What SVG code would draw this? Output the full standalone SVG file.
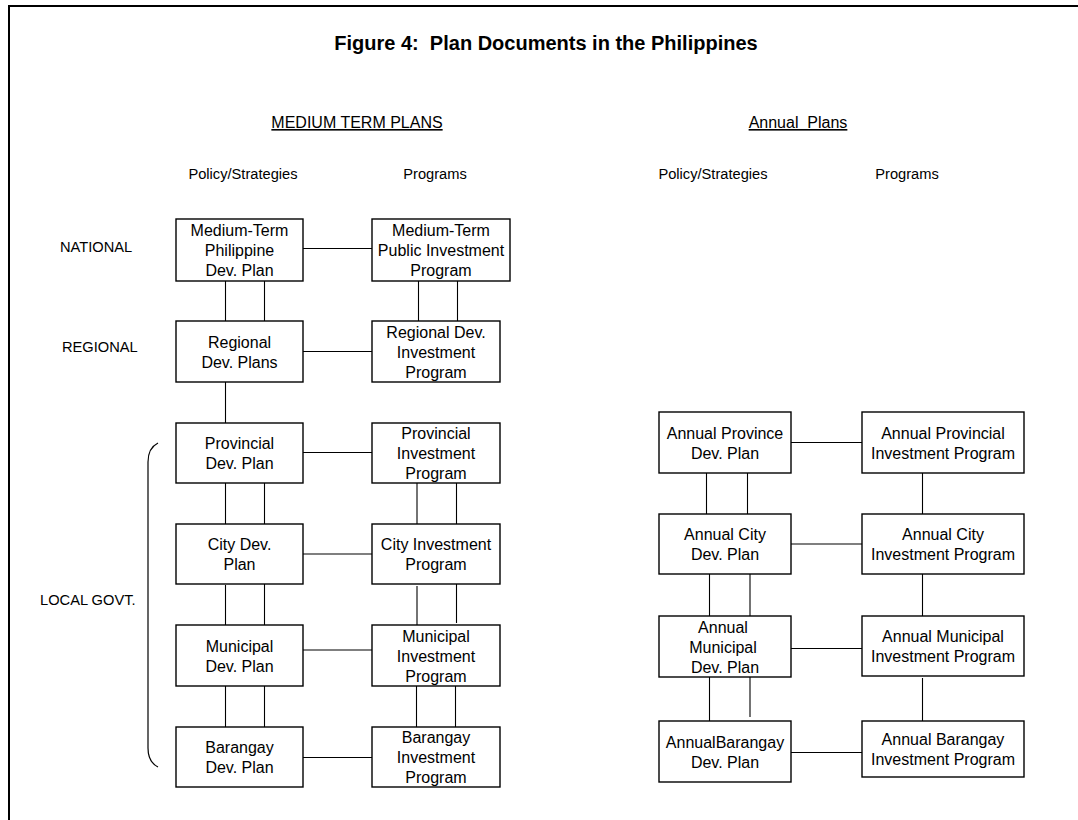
<svg xmlns="http://www.w3.org/2000/svg" width="1078" height="820" viewBox="0 0 1078 820">
<style>
text{font-family:"Liberation Sans",Arial,sans-serif;fill:#000}
.t{font-size:16px;text-anchor:middle}
.h{font-size:14.67px;text-anchor:middle}
.lv{font-size:14.67px}
.title{font-size:20px;font-weight:bold;text-anchor:middle}
.box{fill:#fff;stroke:#000;stroke-width:1.4}
.c line{stroke:#000;stroke-width:1.1}
</style>
<rect x="9" y="6" width="1100" height="900" fill="#fff" stroke="#000" stroke-width="2"/>
<text class="title" x="546" y="50" xml:space="preserve">Figure 4:  Plan Documents in the Philippines</text>
<text class="t" x="357" y="128" text-decoration="underline">MEDIUM TERM PLANS</text>
<text class="t" x="798" y="128" text-decoration="underline" xml:space="preserve">Annual  Plans</text>
<text class="h" x="243" y="179">Policy/Strategies</text>
<text class="h" x="435" y="179">Programs</text>
<text class="h" x="713" y="179">Policy/Strategies</text>
<text class="h" x="907" y="179">Programs</text>
<text class="lv" x="60" y="252">NATIONAL</text>
<text class="lv" x="62" y="352">REGIONAL</text>
<text class="lv" x="40" y="605">LOCAL GOVT.</text>
<path d="M158,443 Q148,448 148,462 L148,748 Q148,762 158,767" fill="none" stroke="#000" stroke-width="1.2"/>
<g class="c" id="connectors">
<line x1="303" y1="248.5" x2="372" y2="248.5"/>
<line x1="303" y1="351.5" x2="372" y2="351.5"/>
<line x1="303" y1="452.5" x2="372" y2="452.5"/>
<line x1="303" y1="554" x2="372" y2="554"/>
<line x1="303" y1="650" x2="372" y2="650"/>
<line x1="303" y1="757.5" x2="372" y2="757.5"/>
<line x1="225.5" y1="281" x2="225.5" y2="321"/>
<line x1="264.5" y1="281" x2="264.5" y2="321"/>
<line x1="418.5" y1="281" x2="418.5" y2="321"/>
<line x1="457.5" y1="281" x2="457.5" y2="321"/>
<line x1="225.5" y1="382" x2="225.5" y2="423"/>
<line x1="225.5" y1="483" x2="225.5" y2="524"/>
<line x1="264.5" y1="483" x2="264.5" y2="524"/>
<line x1="417" y1="483" x2="417" y2="524"/>
<line x1="456.5" y1="483" x2="456.5" y2="524"/>
<line x1="225.5" y1="585" x2="225.5" y2="625"/>
<line x1="264.5" y1="583" x2="264.5" y2="625"/>
<line x1="417" y1="586" x2="417" y2="625"/>
<line x1="456.5" y1="583" x2="456.5" y2="623"/>
<line x1="225.5" y1="686" x2="225.5" y2="727"/>
<line x1="264.5" y1="686" x2="264.5" y2="727"/>
<line x1="416.5" y1="686" x2="416.5" y2="727"/>
<line x1="455.5" y1="686" x2="455.5" y2="727"/>
<line x1="791" y1="442.5" x2="862" y2="442.5"/>
<line x1="791" y1="544" x2="862" y2="544"/>
<line x1="791" y1="648.5" x2="862" y2="648.5"/>
<line x1="791" y1="752.5" x2="862" y2="752.5"/>
<line x1="706.5" y1="473" x2="706.5" y2="514"/>
<line x1="747.5" y1="473" x2="747.5" y2="514"/>
<line x1="709.5" y1="574" x2="709.5" y2="616"/>
<line x1="750" y1="574" x2="750" y2="616"/>
<line x1="709.5" y1="677" x2="709.5" y2="721"/>
<line x1="750" y1="677" x2="750" y2="717"/>
<line x1="922.5" y1="473" x2="922.5" y2="514"/>
<line x1="922.5" y1="574" x2="922.5" y2="616"/>
<line x1="922.5" y1="678" x2="922.5" y2="721"/>
</g>
<g id="n1"><rect class="box" x="176" y="219" width="127" height="62"/><text class="t" x="239.5" y="236.3">Medium-Term</text><text class="t" x="239.5" y="256.3">Philippine</text><text class="t" x="239.5" y="276.3">Dev. Plan</text></g>
<g id="n2"><rect class="box" x="372" y="219" width="138" height="62"/><text class="t" x="441" y="236.3">Medium-Term</text><text class="t" x="441" y="256.3">Public Investment</text><text class="t" x="441" y="276.3">Program</text></g>
<g id="n3"><rect class="box" x="176" y="321" width="127" height="61"/><text class="t" x="239.5" y="347.8">Regional</text><text class="t" x="239.5" y="367.8">Dev. Plans</text></g>
<g id="n4"><rect class="box" x="372" y="321" width="128" height="61"/><text class="t" x="436" y="337.8">Regional Dev.</text><text class="t" x="436" y="357.8">Investment</text><text class="t" x="436" y="377.8">Program</text></g>
<g id="n5"><rect class="box" x="176" y="423" width="127" height="60"/><text class="t" x="239.5" y="449.3">Provincial</text><text class="t" x="239.5" y="469.3">Dev. Plan</text></g>
<g id="n6"><rect class="box" x="372" y="423" width="128" height="60"/><text class="t" x="436" y="439.3">Provincial</text><text class="t" x="436" y="459.3">Investment</text><text class="t" x="436" y="479.3">Program</text></g>
<g id="n7"><rect class="box" x="176" y="524" width="127" height="60"/><text class="t" x="239.5" y="550.3">City Dev.</text><text class="t" x="239.5" y="570.3">Plan</text></g>
<g id="n8"><rect class="box" x="372" y="524" width="128" height="60"/><text class="t" x="436" y="550.3">City Investment</text><text class="t" x="436" y="570.3">Program</text></g>
<g id="n9"><rect class="box" x="176" y="625" width="127" height="61"/><text class="t" x="239.5" y="651.8">Municipal</text><text class="t" x="239.5" y="671.8">Dev. Plan</text></g>
<g id="n10"><rect class="box" x="372" y="625" width="128" height="61"/><text class="t" x="436" y="641.8">Municipal</text><text class="t" x="436" y="661.8">Investment</text><text class="t" x="436" y="681.8">Program</text></g>
<g id="n11"><rect class="box" x="176" y="727" width="127" height="60"/><text class="t" x="239.5" y="753.3">Barangay</text><text class="t" x="239.5" y="773.3">Dev. Plan</text></g>
<g id="n12"><rect class="box" x="372" y="727" width="128" height="60"/><text class="t" x="436" y="743.3">Barangay</text><text class="t" x="436" y="763.3">Investment</text><text class="t" x="436" y="783.3">Program</text></g>
<g id="a1"><rect class="box" x="659" y="412" width="132" height="61"/><text class="t" x="725" y="438.8">Annual Province</text><text class="t" x="725" y="458.8">Dev. Plan</text></g>
<g id="a2"><rect class="box" x="862" y="412" width="162" height="61"/><text class="t" x="943" y="438.8">Annual Provincial</text><text class="t" x="943" y="458.8">Investment Program</text></g>
<g id="a3"><rect class="box" x="659" y="514" width="132" height="60"/><text class="t" x="725" y="540.3">Annual City</text><text class="t" x="725" y="560.3">Dev. Plan</text></g>
<g id="a4"><rect class="box" x="862" y="514" width="162" height="60"/><text class="t" x="943" y="540.3">Annual City</text><text class="t" x="943" y="560.3">Investment Program</text></g>
<g id="a5"><rect class="box" x="659" y="616" width="132" height="61"/><text class="t" x="723" y="632.8">Annual</text><text class="t" x="723" y="652.8">Municipal</text><text class="t" x="725" y="672.8">Dev. Plan</text></g>
<g id="a6"><rect class="box" x="862" y="616" width="162" height="60"/><text class="t" x="943" y="642.3">Annual Municipal</text><text class="t" x="943" y="662.3">Investment Program</text></g>
<g id="a7"><rect class="box" x="659" y="721" width="132" height="61"/><text class="t" x="725" y="747.8">AnnualBarangay</text><text class="t" x="725" y="767.8">Dev. Plan</text></g>
<g id="a8"><rect class="box" x="862" y="721" width="162" height="56"/><text class="t" x="943" y="745.3">Annual Barangay</text><text class="t" x="943" y="765.3">Investment Program</text></g>
</svg>
